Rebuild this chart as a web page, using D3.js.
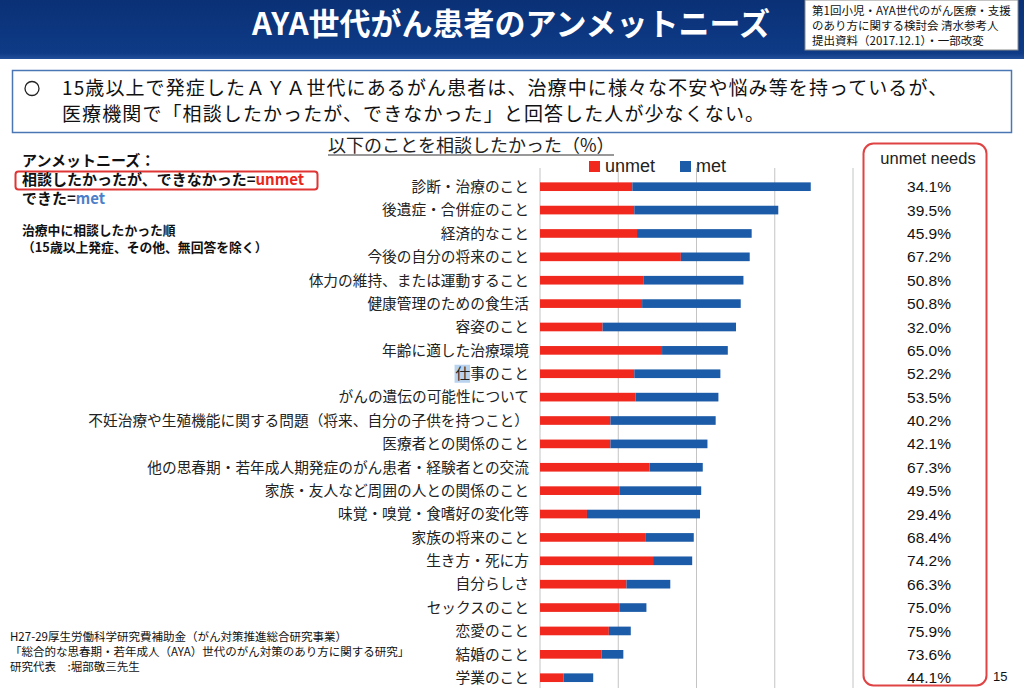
<!DOCTYPE html>
<html><head><meta charset="utf-8">
<script src="https://cdn.jsdelivr.net/npm/d3@7"></script>
<style>
html,body{margin:0;padding:0;background:#fff;}
svg{display:block;}
</style></head>
<body>
<svg id="chart" width="1024" height="688"></svg>
<script>
const categories = ["診断・治療のこと","後遺症・合併症のこと","経済的なこと","今後の自分の将来のこと","体力の維持、または運動すること","健康管理のための食生活","容姿のこと","年齢に適した治療環境","仕事のこと","がんの遺伝の可能性について","不妊治療や生殖機能に関する問題（将来、自分の子供を持つこと）","医療者との関係のこと","他の思春期・若年成人期発症のがん患者・経験者との交流","家族・友人など周囲の人との関係のこと","味覚・嗅覚・食嗜好の変化等","家族の将来のこと","生き方・死に方","自分らしさ","セックスのこと","恋愛のこと","結婚のこと","学業のこと"];
const unmetValues = [23.6,24.1,24.8,36.0,26.4,26.1,16.0,31.2,24.1,24.4,18.0,18.0,28.0,20.4,12.0,26.9,28.9,22.1,20.4,17.6,15.7,6.0];
const metValues   = [45.6,36.8,29.3,17.6,25.6,25.2,34.1,16.8,22.0,21.2,26.9,24.8,13.6,20.8,28.9,12.4,10.0,11.2,6.8,5.6,5.6,7.6];
const unmetNeeds  = ["34.1%","39.5%","45.9%","67.2%","50.8%","50.8%","32.0%","65.0%","52.2%","53.5%","40.2%","42.1%","67.3%","49.5%","29.4%","68.4%","74.2%","66.3%","75.0%","75.9%","73.6%","44.1%"];
const xTicks = [0,20,40,60,80];
const seriesNames = ["unmet","met"];

const JP = "'Noto Sans CJK JP','Noto Sans',sans-serif";
const LAT = "'Liberation Sans',Arial,sans-serif";
const RED = "#f0281e", BLUE = "#1b5ba7";

const svg = d3.select("#chart");

// header
const defs = svg.append("defs");
const g1 = defs.append("linearGradient").attr("id","hdr").attr("x1",0).attr("y1",0).attr("x2",0).attr("y2",1);
g1.append("stop").attr("offset","0%").attr("stop-color","#0a3176");
g1.append("stop").attr("offset","90%").attr("stop-color","#0e3a86");
g1.append("stop").attr("offset","100%").attr("stop-color","#23509a");
svg.append("rect").attr("x",0).attr("y",0).attr("width",1024).attr("height",59).attr("fill","url(#hdr)");
svg.append("text").attr("x",511).attr("y",35).attr("text-anchor","middle")
  .attr("font-family",JP).attr("font-weight","bold").attr("font-size",31).attr("fill","#fff")
  .text("AYA世代がん患者のアンメットニーズ");
svg.append("rect").attr("x",805).attr("y",0).attr("width",213).attr("height",50)
  .attr("fill","#fff").attr("stroke","#8a8a8a").attr("stroke-width",1);
const src = svg.append("text").attr("font-family",JP).attr("font-size",11.5).attr("fill","#111");
["第1回小児・AYA世代のがん医療・支援","のあり方に関する検討会 清水参考人","提出資料（2017.12.1）・一部改変"].forEach((t,i)=>{
  src.append("tspan").attr("x",812).attr("y",15+i*15).text(t);
});

// summary box
svg.append("rect").attr("x",12.5).attr("y",70.5).attr("width",999).attr("height",62)
  .attr("fill","#fff").attr("stroke","#4a77b4").attr("stroke-width",1.5);
svg.append("circle").attr("cx",32).attr("cy",88.5).attr("r",7).attr("fill","none").attr("stroke","#222").attr("stroke-width",1.3);
const sum = svg.append("text").attr("font-family",JP).attr("font-size",19).attr("letter-spacing",1.1).attr("fill","#111");
sum.append("tspan").attr("x",62).attr("y",94.5)
  .text("15歳以上で発症したＡＹＡ世代にあるがん患者は、治療中に様々な不安や悩み等を持っているが、");
sum.append("tspan").attr("x",62).attr("y",120.5)
  .text("医療機関で「相談したかったが、できなかった」と回答した人が少なくない。");

// chart title
svg.append("text").attr("x",328).attr("y",152).attr("font-family",JP).attr("font-size",18).attr("fill","#222")
  .text("以下のことを相談したかった（%）");
svg.append("line").attr("x1",328).attr("x2",614).attr("y1",155).attr("y2",155).attr("stroke","#333").attr("stroke-width",1.2);

// scales
const x = d3.scaleLinear().domain([0,80]).range([540,853]);
const y = d3.scaleBand().domain(categories).range([175,689.4]).paddingInner(0.63).paddingOuter(0.315);

// gridlines
svg.append("g").selectAll("line").data(xTicks).join("line")
  .attr("x1",d=>x(d)).attr("x2",d=>x(d)).attr("y1",168).attr("y2",688)
  .attr("stroke","#c4c4c4").attr("stroke-width",1);

// bars
const rows = categories.map((c,i)=>({cat:c, unmet:unmetValues[i], met:metValues[i]}));
const stack = d3.stack().keys(seriesNames)(rows);
const color = d3.scaleOrdinal().domain(seriesNames).range([RED,BLUE]);
svg.append("g").selectAll("g").data(stack).join("g").attr("fill",d=>color(d.key))
  .selectAll("rect").data(d=>d).join("rect")
  .attr("x",d=>x(d[0])).attr("width",d=>x(d[1])-x(d[0]))
  .attr("y",d=>y(d.data.cat)).attr("height",y.bandwidth());

// category labels
const hl = svg.append("g");
const labels = svg.append("g").selectAll("text").data(categories).join("text")
  .attr("x",529).attr("y",d=>y(d)+y.bandwidth()/2).attr("dy","0.36em")
  .attr("text-anchor","end").attr("font-family",JP).attr("font-size",14.7).attr("fill","#222")
  .text(d=>d);
// selection highlight behind the first character of "仕事のこと" (as in the reference)
labels.filter(d=>d==="仕事のこと").each(function(d){
  const w = this.getComputedTextLength();
  hl.append("rect").attr("x",529-w-1).attr("y",y(d)+y.bandwidth()/2-9).attr("width",15.5).attr("height",18)
    .attr("fill","#b9d3ee");
});

// legend
const lg = svg.append("g");
[{k:"unmet",x:589},{k:"met",x:680}].forEach(o=>{
  lg.append("rect").attr("x",o.x).attr("y",161).attr("width",11).attr("height",11).attr("fill",color(o.k));
  lg.append("text").attr("x",o.x+16).attr("y",172).attr("font-family",LAT).attr("font-size",18).attr("fill","#222").text(o.k);
});

// unmet needs box
svg.append("rect").attr("x",863.5).attr("y",143.5).attr("width",123).attr("height",542).attr("rx",10)
  .attr("fill","none").attr("stroke","#e04343").attr("stroke-width",2);
svg.append("text").attr("x",928).attr("y",164).attr("text-anchor","middle").attr("font-family",LAT)
  .attr("font-size",16.5).attr("fill","#222").text("unmet needs");
svg.append("g").selectAll("text").data(unmetNeeds).join("text")
  .attr("x",929).attr("y",(d,i)=>y(categories[i])+y.bandwidth()/2).attr("dy","0.36em")
  .attr("text-anchor","middle").attr("font-family",LAT).attr("font-size",15.5).attr("fill","#111")
  .text(d=>d);

// left annotations
svg.append("rect").attr("x",15.5).attr("y",171.5).attr("width",302).attr("height",18).attr("rx",3)
  .attr("fill","none").attr("stroke","#e03535").attr("stroke-width",2);
const ann = svg.append("text").attr("font-family",JP).attr("font-weight","bold").attr("font-size",15).attr("fill","#111");
ann.append("tspan").attr("x",22).attr("y",166).text("アンメットニーズ：");
ann.append("tspan").attr("x",22).attr("y",185).text("相談したかったが、できなかった=");
ann.append("tspan").attr("fill","#e8261c").text("unmet");
ann.append("tspan").attr("x",22).attr("y",204).text("できた=");
ann.append("tspan").attr("fill","#4d7fc9").text("met");
const ord = svg.append("text").attr("font-family",JP).attr("font-weight","bold").attr("font-size",12.8).attr("fill","#111");
ord.append("tspan").attr("x",22).attr("y",234.5).text("治療中に相談したかった順");
ord.append("tspan").attr("x",22).attr("y",252).text("（15歳以上発症、その他、無回答を除く）");

// footnote
const fn = svg.append("text").attr("font-family",JP).attr("font-size",11.5).attr("fill","#111");
["H27-29厚生労働科学研究費補助金（がん対策推進総合研究事業）","「総合的な思春期・若年成人（AYA）世代のがん対策のあり方に関する研究」","研究代表　:堀部敬三先生"].forEach((t,i)=>{
  fn.append("tspan").attr("x",10).attr("y",641+i*15).text(t);
});
svg.append("text").attr("x",993).attr("y",681).attr("font-family",LAT).attr("font-size",13).attr("fill","#111").text("15");
</script>
</body></html>
